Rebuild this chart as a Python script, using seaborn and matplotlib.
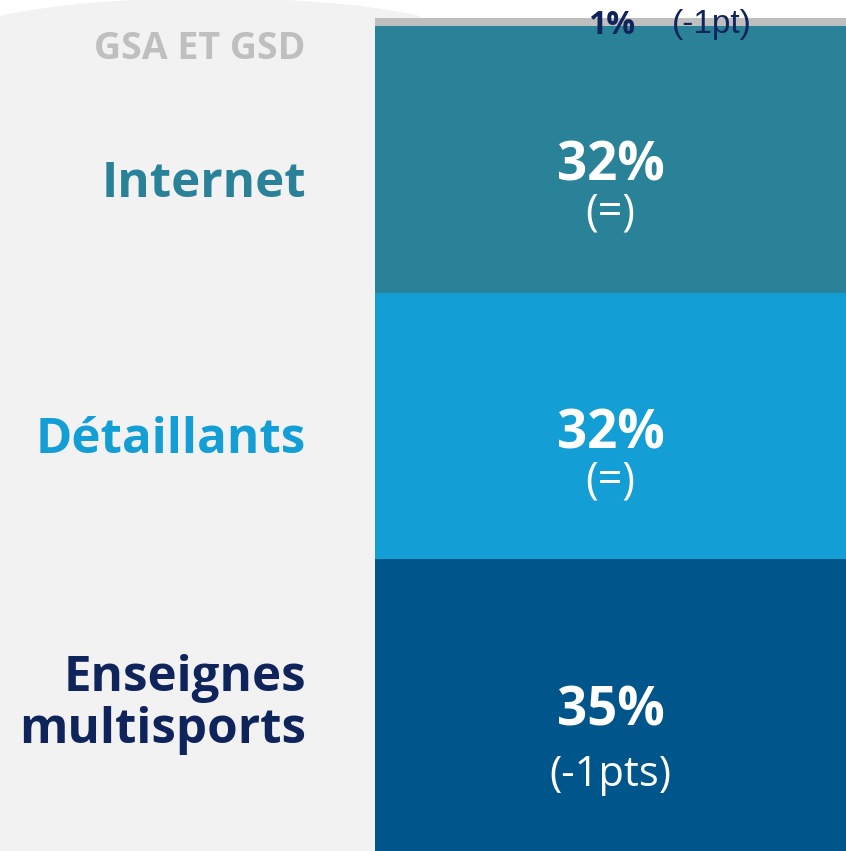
import numpy as np
import pandas as pd
import matplotlib
matplotlib.use("Agg")
import matplotlib.pyplot as plt
import seaborn as sns

# -----------------------------
# data (bottom -> top of the stack)
# -----------------------------
channels = ["Enseignes multisports", "Détaillants", "Internet", "GSA ET GSD"]
shares = [35, 32, 32, 1]
changes = ["(-1pts)", "(=)", "(=)", "(-1pt)"]

bar_colors = ["#00558B", "#139FD6", "#2A8299", "#BFBFBF"]
label_colors = ["#10245C", "#139FD6", "#2A8299", "#BFBFBF"]
navy = "#10245C"

sns.set_theme(style="white")
plt.rcParams["font.family"] = ["Open Sans", "DejaVu Sans"]

W, H = 846, 851
fig = plt.figure(figsize=(W / 100, H / 100), dpi=100)
fig.patch.set_facecolor("white")

# -----------------------------
# grey panel behind the labels
# -----------------------------
bg = fig.add_axes([0, 0, 1, 1], zorder=0)
bg.set_xlim(0, W)
bg.set_ylim(H, 0)
bg.axis("off")
xs = np.linspace(0, 420, 200)
a, b = 260.0, 43.9
ys = (b - 2) - b * np.sqrt(np.clip(1 - ((xs - 210) / a) ** 2, 0, None))
poly_x = np.concatenate([xs, [420, 0]])
poly_y = np.concatenate([ys, [H, H]])
bg.fill(poly_x, poly_y, color="#F2F2F2", lw=0)

# -----------------------------
# stacked bar
# -----------------------------
ax = fig.add_axes([375 / W, 0, 471 / W, 833 / H], zorder=1)
ax.patch.set_alpha(0)

df = pd.DataFrame({"channel": channels, "share": shares})
df["top"] = df["share"].cumsum()
df["center"] = df["top"] - df["share"] / 2
df["bar"] = "total"

for i in reversed(range(len(df))):
    sns.barplot(data=df.iloc[[i]], x="bar", y="top", color=bar_colors[i],
                saturation=1, width=1, linewidth=0, ax=ax)

ax.set_xlim(-0.5, 0.5)
ax.set_ylim(0, 100)
ax.axis("off")

# -----------------------------
# texts (offsets in pixels from segment centers)
# -----------------------------
label_dy = [None, -27, -37, -37]
value_dy = [-20, -22, -21]
change_dy = [-81, -66, -65]
change_size = [30, 31, 31]

for i in range(3):
    c = df["center"][i]
    ax.annotate(f"{shares[i]}%", xy=(0.5, c), xycoords=("axes fraction", "data"),
                xytext=(0, value_dy[i]), textcoords="offset pixels",
                ha="center", va="baseline", fontsize=38, fontweight="bold",
                color="white")
    ax.annotate(changes[i], xy=(0.5, c), xycoords=("axes fraction", "data"),
                xytext=(0, change_dy[i]), textcoords="offset pixels",
                ha="center", va="baseline", fontsize=change_size[i],
                color="white")

# left labels
c0 = df["center"][0]
ax.annotate("Enseignes", xy=(0, c0), xycoords=("axes fraction", "data"),
            xytext=(-69, 14), textcoords="offset pixels", ha="right",
            va="baseline", fontsize=35.5, fontweight="bold", color=label_colors[0])
ax.annotate("multisports", xy=(0, c0), xycoords=("axes fraction", "data"),
            xytext=(-69, -38), textcoords="offset pixels", ha="right",
            va="baseline", fontsize=35.5, fontweight="bold", color=label_colors[0])
for i in (1, 2):
    ax.annotate(channels[i], xy=(0, df["center"][i]),
                xycoords=("axes fraction", "data"),
                xytext=(-69, label_dy[i]), textcoords="offset pixels",
                ha="right", va="baseline", fontsize=35.5, fontweight="bold",
                color=label_colors[i])

c3 = df["center"][3]
ax.annotate(channels[3], xy=(0, c3), xycoords=("axes fraction", "data"),
            xytext=(-70, label_dy[3]), textcoords="offset pixels", ha="right",
            va="baseline", fontsize=27, fontweight="bold", color=label_colors[3])
ax.annotate(f"{shares[3]}%", xy=(0.5, c3), xycoords=("axes fraction", "data"),
            xytext=(1, -12), textcoords="offset pixels", ha="center",
            va="baseline", fontsize=23, fontweight="bold", color=navy,
            annotation_clip=False)
ax.annotate(changes[3], xy=(0.5, c3), xycoords=("axes fraction", "data"),
            xytext=(61, -11), textcoords="offset pixels", ha="left",
            va="baseline", fontsize=24, color=navy,
            family=["Liberation Sans Narrow", "Liberation Sans", "DejaVu Sans"],
            annotation_clip=False)

fig.savefig("out.png", dpi=100, facecolor="white")
